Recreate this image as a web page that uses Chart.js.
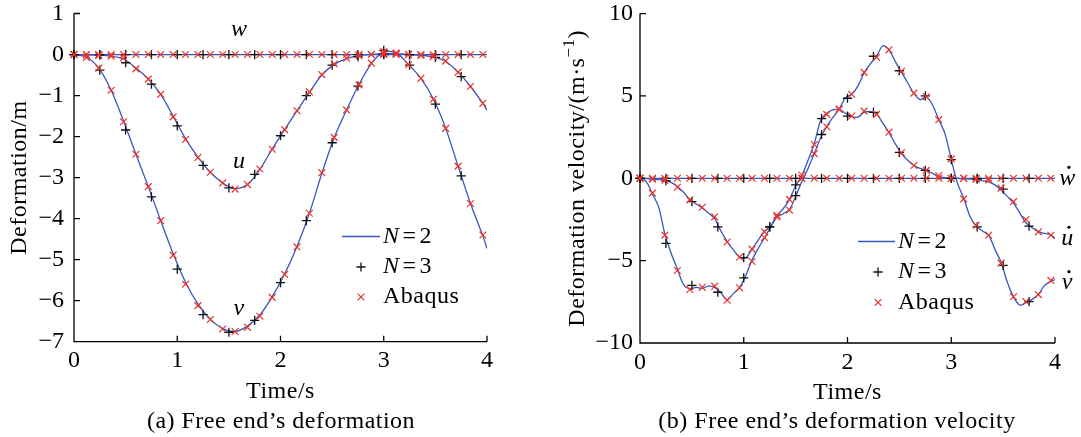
<!DOCTYPE html>
<html><head><meta charset="utf-8">
<script src="https://cdn.jsdelivr.net/npm/chart.js@4.4.0/dist/chart.umd.min.js"></script>
<style>
html,body{margin:0;padding:0;background:#fff;width:1081px;height:437px;overflow:hidden;}
canvas{position:absolute;top:0;}
#c1{left:0;} #c2{left:540px;}
</style></head><body>
<canvas id="c1" width="540" height="437"></canvas>
<canvas id="c2" width="541" height="437"></canvas>
<script>
// ---------- tick labels ----------
const xTicks = [0, 1, 2, 3, 4];
const yTicksL = [-7, -6, -5, -4, -3, -2, -1, 0, 1];
const yTicksR = [-10, -5, 0, 5, 10];

// ---------- time grids ----------
const tAbq = [0,0.12,0.24,0.36,0.48,0.6,0.72,0.84,0.96,1.08,1.2,1.32,1.44,1.56,1.68,1.8,1.92,2.04,2.16,2.28,2.4,2.52,2.64,2.76,2.88,3,3.12,3.24,3.36,3.48,3.6,3.72,3.84,3.96];
const tN3 = [0,0.25,0.5,0.75,1,1.25,1.5,1.75,2,2.25,2.5,2.75,3,3.25,3.5,3.75];
const tN2L = [0,0.12,0.24,0.36,0.48,0.6,0.72,0.84,0.96,1.08,1.2,1.32,1.44,1.56,1.68,1.8,1.92,2.04,2.16,2.28,2.4,2.52,2.64,2.76,2.88,3,3.12,3.24,3.36,3.48,3.6,3.72,3.84,3.96,4];
const tN2R = [0,0.06,0.12,0.18,0.24,0.3,0.36,0.42,0.48,0.54,0.6,0.66,0.72,0.78,0.84,0.9,0.96,1.02,1.08,1.14,1.2,1.26,1.32,1.38,1.44,1.5,1.56,1.62,1.68,1.74,1.8,1.86,1.92,1.98,2.04,2.1,2.16,2.22,2.28,2.34,2.4,2.46,2.52,2.58,2.64,2.7,2.76,2.82,2.88,2.94,3,3.06,3.12,3.18,3.24,3.3,3.36,3.42,3.48,3.54,3.6,3.66,3.72,3.78,3.84,3.9,3.96,4];

// ---------- (a) deformation ----------
const n2U = [0,-0.005,-0.015,-0.04,-0.11,-0.33,-0.6,-0.97,-1.5,-2.05,-2.5,-2.87,-3.13,-3.27,-3.17,-2.8,-2.3,-1.83,-1.37,-0.92,-0.5,-0.24,-0.1,-0.03,0,0.02,0.02,0,-0.02,-0.06,-0.17,-0.43,-0.78,-1.19,-1.36];
const n2V = [0,-0.06,-0.33,-0.87,-1.62,-2.43,-3.22,-4.05,-4.85,-5.55,-6.08,-6.45,-6.68,-6.75,-6.62,-6.35,-5.9,-5.35,-4.68,-3.87,-2.9,-2.03,-1.35,-0.73,-0.22,0.06,0.04,-0.24,-0.58,-1.08,-1.8,-2.72,-3.63,-4.42,-4.73];
const n2W = [0,0,0,0,0,0,0,0,0,0,0,0,0,0,0,0,0,0,0,0,0,0,0,0,0,0,0,0,0,0,0,0,0,0,0];
const n3U = [0,-0.01,-0.2,-0.72,-1.74,-2.7,-3.25,-2.92,-1.98,-1.0,-0.26,-0.05,0.01,0,-0.07,-0.54];
const n3V = [0,-0.38,-1.84,-3.47,-5.23,-6.34,-6.77,-6.48,-5.56,-4.05,-2.15,-0.77,0.1,-0.26,-1.21,-2.96];
const n3W = [0,0,0,0,0,0,0,0,0,0,0,0,0,0,0,0];
const abqU = [0,-0.005,-0.02,-0.04,-0.08,-0.35,-0.6,-0.97,-1.52,-2.07,-2.51,-2.87,-3.13,-3.28,-3.17,-2.79,-2.31,-1.83,-1.37,-0.91,-0.49,-0.23,-0.09,-0.03,0,0.02,0.02,0,-0.02,-0.05,-0.16,-0.43,-0.78,-1.19];
const abqV = [0,-0.07,-0.33,-0.87,-1.64,-2.43,-3.22,-4.05,-4.89,-5.6,-6.12,-6.46,-6.69,-6.75,-6.65,-6.38,-5.92,-5.36,-4.69,-3.87,-2.88,-2.02,-1.35,-0.74,-0.21,0.07,0.04,-0.25,-0.58,-1.09,-1.8,-2.72,-3.63,-4.4];
const abqW = [0,0,0,0,0,0,0,0,0,0,0,0,0,0,0,0,0,0,0,0,0,0,0,0,0,0,0,0,0,0,0,0,0,0];

// ---------- (b) deformation velocity ----------
const n2Ud = [0,-0.02,-0.05,-0.08,-0.13,-0.25,-0.5,-0.85,-1.28,-1.55,-1.8,-2.1,-2.45,-3.2,-3.85,-4.35,-4.78,-4.82,-4.3,-3.75,-3.2,-2.9,-2.25,-1.85,-1.28,-0.45,0.15,1.1,2.1,3.5,3.95,4.15,4.18,3.95,3.75,3.72,4.0,4.05,3.9,3.35,2.77,2.1,1.5,1.1,0.78,0.6,0.48,0.3,0.1,0.03,0,0,-0.03,-0.05,-0.08,-0.15,-0.22,-0.4,-0.7,-1.1,-1.5,-2.1,-2.7,-3.0,-3.24,-3.35,-3.45,-3.65];
const n2Vd = [0,-0.2,-0.95,-1.75,-3.4,-4.55,-5.5,-6.45,-6.72,-6.62,-6.68,-6.55,-6.62,-6.95,-7.38,-7.0,-6.62,-5.9,-4.96,-4.25,-3.62,-2.95,-2.35,-2.15,-1.9,-1.1,-0.2,0.6,1.5,2.45,3.15,3.7,4.2,4.9,5.1,5.6,6.4,6.95,7.4,8.05,7.8,7.1,6.45,5.8,5.15,4.78,4.95,4.45,3.55,2.7,1.15,-0.3,-1.2,-2.3,-2.9,-3.2,-3.45,-4.3,-5.1,-6.3,-7.2,-7.7,-7.55,-7.35,-7.05,-6.5,-6.25,-6.15];
const n2Wd = [0,0,0,0,0,0,0,0,0,0,0,0,0,0,0,0,0,0,0,0,0,0,0,0,0,0,0,0,0,0,0,0,0,0,0,0,0,0,0,0,0,0,0,0,0,0,0,0,0,0,0,0,0,0,0,0,0,0,0,0,0,0,0,0,0,0,0,0];
const n3Ud = [0,-0.15,-1.42,-2.95,-4.82,-2.95,-0.4,3.62,3.78,4.0,1.58,0.48,0,-0.05,-0.66,-2.9];
const n3Vd = [0,-3.95,-6.5,-6.92,-6.04,-2.95,-1.05,2.66,4.86,7.41,6.53,5.0,1.13,-2.95,-5.29,-7.49];
const n3Wd = [0,0,0,0,0,0,0,0,0,0,0,0,0,0,0,0];
const abqUd = [0,-0.05,-0.12,-0.54,-1.31,-1.76,-2.34,-3.87,-4.78,-4.3,-3.25,-2.25,-1.28,0.2,2.05,3.88,4.2,3.78,4.08,3.88,2.8,1.55,0.78,0.48,0.15,0,0,-0.05,-0.1,-0.6,-1.42,-2.5,-3.25,-3.46];
const abqVd = [0,-0.9,-3.45,-5.6,-6.75,-6.62,-6.55,-7.4,-6.65,-5.05,-3.6,-2.35,-1.93,0,1.5,3.13,4.2,5.1,6.43,7.35,7.8,6.5,5.17,4.95,3.56,1.18,-1.25,-2.85,-3.46,-5.15,-7.19,-7.49,-7.06,-6.2];
const abqWd = [0,0,0,0,0,0,0,0,0,0,0,0,0,0,0,0,0,0,0,0,0,0,0,0,0,0,0,0,0,0,0,0,0,0];

// ---------- style ----------
const FAM = '"Liberation Serif", "Times New Roman", serif';
const FS = 24;
const LS = '0.5px';
const BLUE = '#3656c2', RED = '#e8342a', BLK = '#111111';

function pts(xs, ys) { return xs.map((x, i) => ({ x: x, y: ys[i] })); }

function datasets(tN2, curves) {
  const ds = [];
  for (const c of curves) {
    ds.push({ label: 'N=2', data: pts(tN2, c[0]), showLine: true, borderColor: BLUE, borderWidth: 1.3,
      pointRadius: 0, tension: 0.3, order: 2 });
    ds.push({ label: 'N=3', data: pts(tN3, c[1]), showLine: false, pointStyle: 'cross', pointRadius: 4.6,
      pointBorderColor: BLK, pointBackgroundColor: BLK, pointBorderWidth: 1.3, clip: false, order: 1 });
    ds.push({ label: 'Abaqus', data: pts(tAbq, c[2]), showLine: false, pointStyle: 'crossRot', pointRadius: 4.8,
      pointBorderColor: RED, pointBackgroundColor: RED, pointBorderWidth: 1.2, clip: false, order: 0 });
  }
  return ds;
}

function drawPlus(ctx, x, y, r) {
  ctx.strokeStyle = BLK; ctx.lineWidth = 1.3; ctx.beginPath();
  ctx.moveTo(x - r, y); ctx.lineTo(x + r, y); ctx.moveTo(x, y - r); ctx.lineTo(x, y + r); ctx.stroke();
}
function drawX(ctx, x, y, r) {
  ctx.strokeStyle = RED; ctx.lineWidth = 1.2; ctx.beginPath();
  ctx.moveTo(x - r, y - r); ctx.lineTo(x + r, y + r); ctx.moveTo(x - r, y + r); ctx.lineTo(x + r, y - r); ctx.stroke();
}
function nEq(ctx, x, y, d) {
  ctx.textBaseline = 'middle'; ctx.textAlign = 'left'; ctx.fillStyle = '#000';
  ctx.font = 'italic ' + FS + 'px ' + FAM; ctx.fillText('N', x, y);
  let w = ctx.measureText('N').width + 3;
  ctx.font = FS + 'px ' + FAM; ctx.fillText('=', x + w, y);
  w += ctx.measureText('=').width + 3;
  ctx.fillText(String(d), x + w, y);
}

const decor = {
  id: 'decor',
  beforeDatasetsDraw(chart, args, o) {
    const { ctx, chartArea: a, scales: { x, y } } = chart;
    ctx.save();
    ctx.strokeStyle = '#000'; ctx.lineWidth = 1.3;
    ctx.beginPath();
    ctx.moveTo(a.left, a.top); ctx.lineTo(a.left, a.bottom); ctx.lineTo(a.right, a.bottom);
    for (const v of o.xTicks) { const p = x.getPixelForValue(v); ctx.moveTo(p, a.bottom); ctx.lineTo(p, a.bottom - 6); }
    for (const v of o.yTicks) { const p = y.getPixelForValue(v); ctx.moveTo(a.left, p); ctx.lineTo(a.left + 6, p); }
    ctx.stroke();
    ctx.restore();
  },
  afterDraw(chart, args, o) {
    const { ctx, chartArea: a, scales: { x, y } } = chart;
    ctx.save();
    ctx.letterSpacing = LS;
    ctx.fillStyle = '#000';
    // x title
    ctx.font = FS + 'px ' + FAM; ctx.textAlign = 'center'; ctx.textBaseline = 'middle';
    ctx.fillText('Time/s', (a.left + a.right) / 2, o.xTitleY);
    // caption
    ctx.fillText(o.caption, o.capX, o.capY);
    // y title
    ctx.save();
    ctx.translate(o.yTitleX, (a.top + a.bottom) / 2);
    ctx.rotate(-Math.PI / 2);
    ctx.textAlign = 'left';
    if (o.sup) {
      const big = FS + 'px ' + FAM, small = Math.round(FS * 0.7) + 'px ' + FAM;
      ctx.font = big; const w1 = ctx.measureText(o.yTitle).width; const w3 = ctx.measureText(')').width;
      ctx.font = small; const w2 = ctx.measureText(o.sup).width;
      let sx = -(w1 + w2 + w3) / 2;
      ctx.font = big; ctx.fillText(o.yTitle, sx, 0); sx += w1;
      ctx.font = small; ctx.fillText(o.sup, sx, -8); sx += w2;
      ctx.font = big; ctx.fillText(')', sx, 0);
    } else {
      ctx.font = FS + 'px ' + FAM; ctx.textAlign = 'center';
      ctx.fillText(o.yTitle, 0, 0);
    }
    ctx.restore();
    // curve labels
    ctx.font = 'italic ' + FS + 'px ' + FAM; ctx.textAlign = 'left'; ctx.textBaseline = 'middle';
    for (const L of o.labels) {
      const px = x.getPixelForValue(L.t), py = y.getPixelForValue(L.v);
      const w = ctx.measureText(L.s).width;
      ctx.fillText(L.s, px - w / 2, py);
      if (L.dot) { ctx.beginPath(); ctx.arc(px + 1.5, py - 11, 1.6, 0, Math.PI * 2); ctx.fill(); }
    }
    // legend
    const g = o.legend;
    ctx.strokeStyle = BLUE; ctx.lineWidth = 1.3; ctx.beginPath();
    ctx.moveTo(g.x0, g.y[0]); ctx.lineTo(g.x1, g.y[0]); ctx.stroke();
    nEq(ctx, g.tx, g.y[0], 2);
    drawPlus(ctx, g.mx, g.y[1], 4.6);
    nEq(ctx, g.tx, g.y[1], 3);
    drawX(ctx, g.mx, g.y[2], 3.4);
    ctx.font = FS + 'px ' + FAM; ctx.textAlign = 'left'; ctx.fillStyle = '#000';
    ctx.fillText('Abaqus', g.tx, g.y[2]);
    ctx.restore();
  }
};

function makeChart(id, cfg) {
  return new Chart(document.getElementById(id), {
    type: 'scatter',
    data: { datasets: cfg.ds },
    plugins: [decor],
    options: {
      responsive: false, animation: false, devicePixelRatio: 1,
      layout: { padding: cfg.pad },
      plugins: { legend: { display: false }, tooltip: { enabled: false }, decor: cfg.decor },
      scales: {
        x: {
          type: 'linear', min: 0, max: 4,
          afterBuildTicks: s => { s.ticks = xTicks.map(v => ({ value: v })); },
          afterFit: s => { s.height = cfg.xh; },
          grid: { display: false, drawTicks: false }, border: { display: false },
          ticks: { color: '#000', padding: 5, font: { family: FAM, size: FS, lineHeight: 1.2 },
            maxRotation: 0, callback: v => String(v).replace('-', '\u2212') }
        },
        y: {
          type: 'linear', min: cfg.ymin, max: cfg.ymax,
          afterBuildTicks: s => { s.ticks = cfg.yTicks.map(v => ({ value: v })); },
          afterFit: s => { s.width = cfg.yw; },
          grid: { display: false, drawTicks: false }, border: { display: false },
          ticks: { color: '#000', padding: cfg.ypad, font: { family: FAM, size: FS, lineHeight: 0.1 },
            callback: v => String(v).replace('-', '\u2212') }
        }
      }
    }
  });
}

makeChart('c1', {
  ds: datasets(tN2L, [[n2W, n3W, abqW], [n2U, n3U, abqU], [n2V, n3V, abqV]]),
  pad: { left: 0, top: 13.5, right: 53, bottom: 0 },
  xh: 95.3, yw: 74, ymin: -7, ymax: 1, yTicks: yTicksL, ypad: 10,
  decor: {
    xTicks: xTicks, yTicks: yTicksL,
    xTitleY: 392, caption: '(a) Free end\u2019s deformation', capX: 281, capY: 422,
    yTitle: 'Deformation/m', yTitleX: 20,
    labels: [{ s: 'w', t: 1.6, v: 0.6 }, { s: 'u', t: 1.6, v: -2.6 }, { s: 'v', t: 1.6, v: -6.2 }],
    legend: { x0: 342, x1: 380, tx: 383, mx: 361, y: [236.5, 267, 297] }
  }
});

makeChart('c2', {
  ds: datasets(tN2R, [[n2Wd, n3Wd, abqWd], [n2Ud, n3Ud, abqUd], [n2Vd, n3Vd, abqVd]]),
  pad: { left: 0, top: 13.6, right: 26, bottom: 0 },
  xh: 94, yw: 100, ymin: -10, ymax: 10, yTicks: yTicksR, ypad: 7,
  decor: {
    xTicks: xTicks, yTicks: yTicksR,
    xTitleY: 393, caption: '(b) Free end\u2019s deformation velocity', capX: 297, capY: 422,
    yTitle: 'Deformation velocity/(m\u00b7s', sup: '\u22121', yTitleX: 38,
    labels: [{ s: 'w', t: 4.12, v: 0, dot: true }, { s: 'u', t: 4.12, v: -3.64, dot: true }, { s: 'v', t: 4.12, v: -6.34, dot: true }],
    legend: { x0: 318, x1: 355, tx: 358, mx: 338, y: [241.5, 272, 302.5] }
  }
});
</script>
</body></html>
